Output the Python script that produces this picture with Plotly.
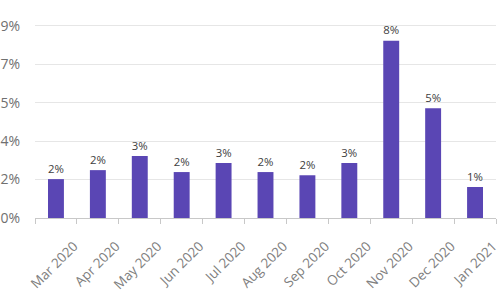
import plotly.graph_objects as go

months = ["Mar 2020", "Apr 2020", "May 2020", "Jun 2020", "Jul 2020", "Aug 2020",
          "Sep 2020", "Oct 2020", "Nov 2020", "Dec 2020", "Jan 2021"]
values = [1.82, 2.24, 2.9, 2.15, 2.57, 2.15, 2.0, 2.57, 8.3, 5.14, 1.45]
tick_vals = [0, 1.8, 3.6, 5.4, 7.2, 9.0]

fig = go.Figure(go.Bar(
    x=months, y=values,
    marker=dict(color="#5A46B4", line=dict(width=0)),
    text=[f"{v:.0f}%" for v in values],
    textposition="outside",
    textfont=dict(family="Open Sans", size=14, color="#404040"),
    cliponaxis=False,
))

fig.update_layout(
    width=500, height=300,
    margin=dict(l=35, r=4, t=15, b=82),
    paper_bgcolor="white", plot_bgcolor="white",
    bargap=0.62,
    showlegend=False,
    font=dict(family="Open Sans", color="#777777"),
)
fig.update_xaxes(
    type="category",
    tickangle=-45,
    tickfont=dict(size=13.5, color="#808080"),
    showline=True, linecolor="#c8c8c8", linewidth=1,
    ticks="outside", tickson="boundaries", ticklen=5, tickcolor="#c8c8c8",
    showgrid=False,
    automargin=False,
    ticklabelshift=18,
    ticklabelstandoff=14,
)
fig.update_yaxes(
    range=[0, 9.5],
    tickvals=tick_vals,
    ticktext=[f"{v:.0f}%" for v in tick_vals],
    tickfont=dict(size=14, color="#707070"),
    showgrid=True, gridcolor="#e6e6e6", gridwidth=1,
    zeroline=False,
    automargin=False,
    ticklabelstandoff=14,
)

fig.write_html("out.html")
